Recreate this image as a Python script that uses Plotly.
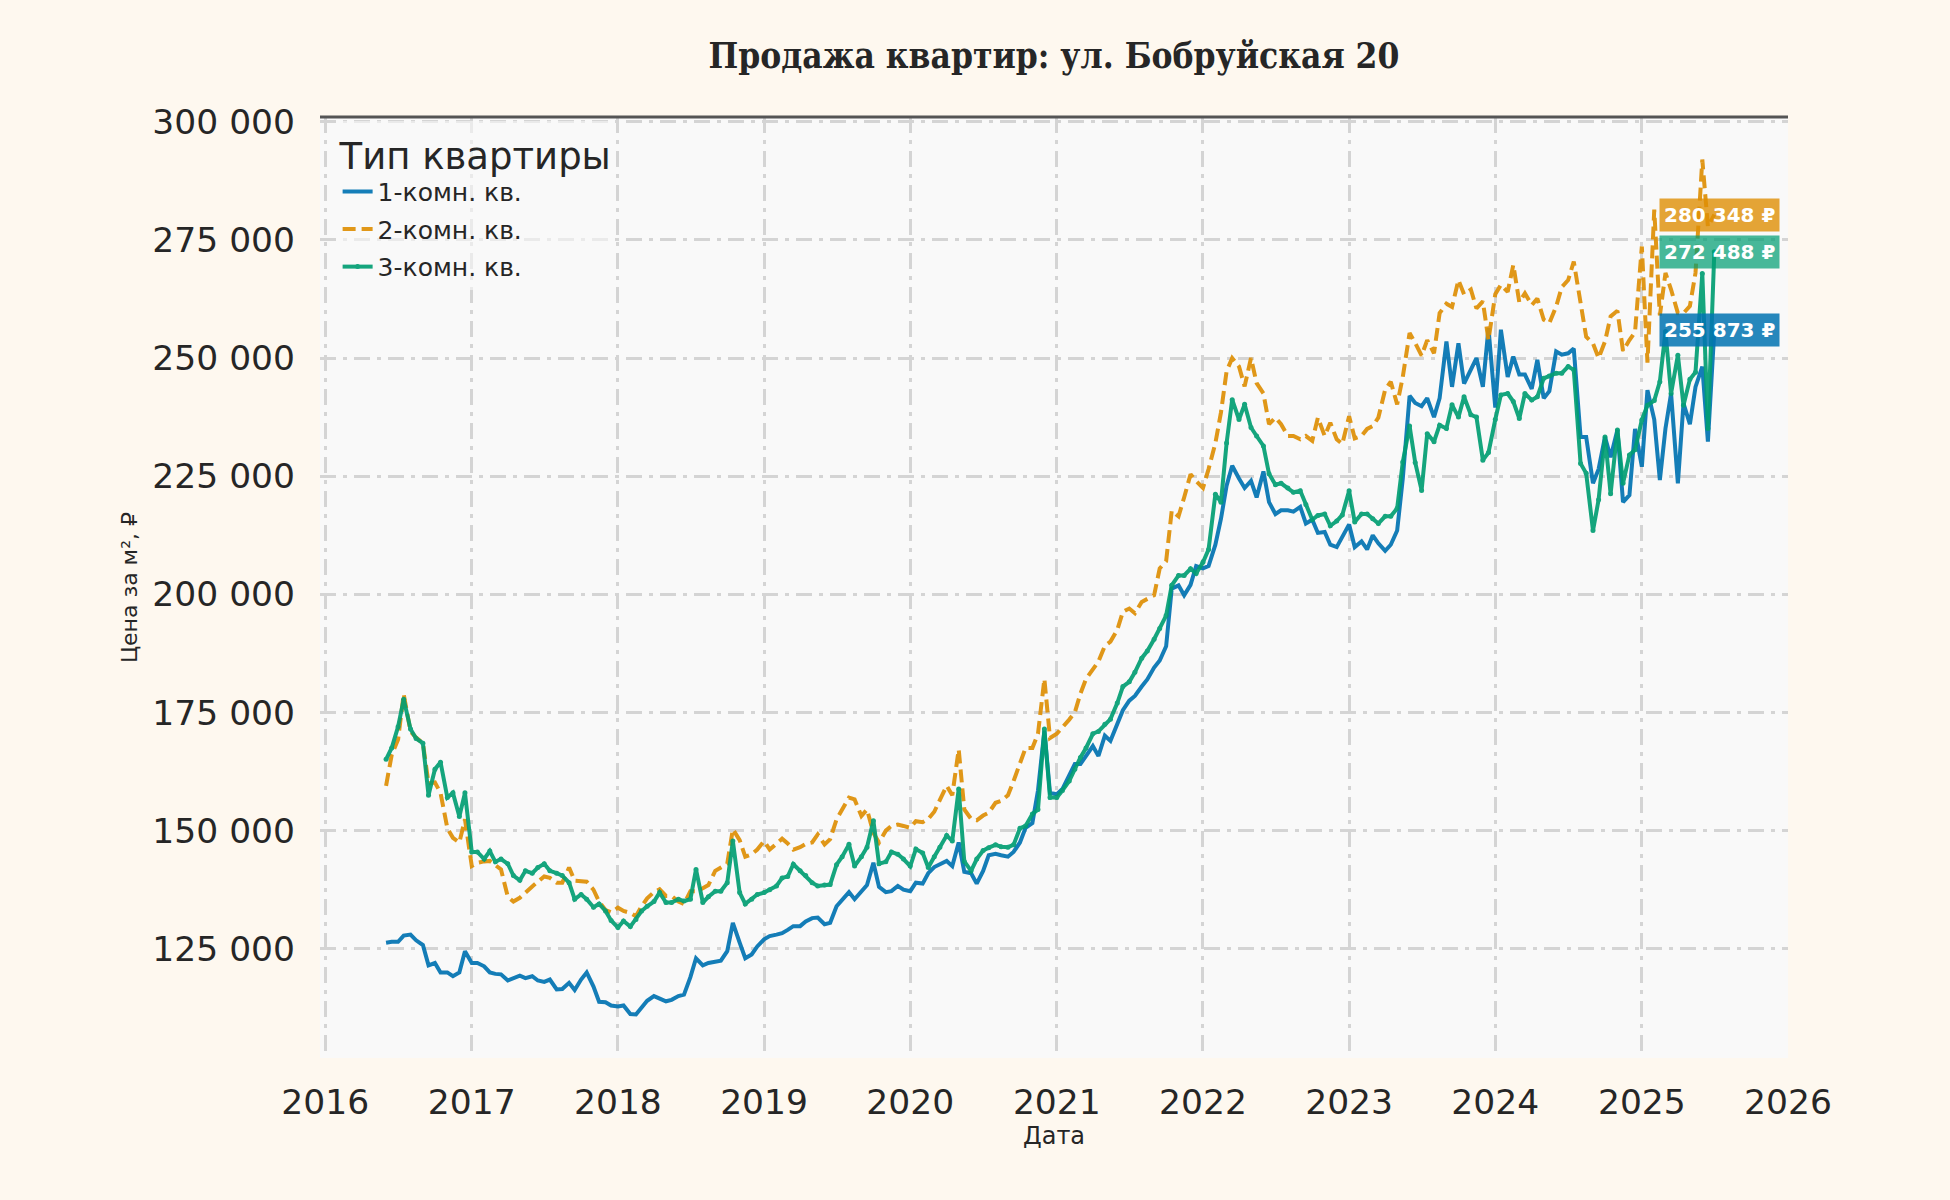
"""
    Цена квадратного метра по типам квартир, ул. Бобруйская 20.
    Значения сняты с графика, точки раз в полмесяца (1-е и 15-е число).
"""

import pandas as pd
import plotly.graph_objects as go

#############################################################################
# Data
#############################################################################
start_date = "2016-06-01"

room1 = (
    # 2016 (Jun - Dec)
    [126300, 126500, 126500, 127800, 128000, 126800, 125800, 121500, 122000, 120000,
     120000, 119200, 120000, 124500]
    # 2017
    + [122000, 122000, 121300, 120000, 119700, 119600, 118300, 118800, 119300, 118800,
       119200, 118300, 118000, 118500, 116400, 116500, 117800, 116300, 118500, 120000,
       117000, 113800, 113700, 113000]
    # 2018
    + [112800, 113000, 111200, 111100, 112500, 114000, 115000, 114500, 113900, 114200,
       115000, 115300, 119000, 123000, 121500, 122000, 122300, 122500, 124500, 130500,
       126300, 123000, 123800, 125500]
    # 2019
    + [127000, 127700, 128000, 128300, 129000, 129800, 129800, 130800, 131500, 131600,
       130200, 130500, 134000, 135500, 137000, 135500, 137000, 138500, 143200, 138100,
       137000, 137200, 138300, 137500]
    # 2020
    + [137200, 139000, 138800, 141000, 142300, 142800, 143600, 142500, 147500, 141300,
       141000, 138800, 141500, 144800, 145100, 144800, 144500, 145500, 147500, 150600,
       151600, 158500, 171100, 158000]
    # 2021
    + [157700, 158800, 161500, 164100, 164100, 165800, 167900, 165800, 170100, 169000,
       172500, 175500, 177500, 178500, 180500, 182000, 184500, 186000, 189000, 201200,
       201900, 199800, 202000, 206000]
    # 2022
    + [205500, 206000, 210500, 216000, 223000, 227200, 224500, 222500, 224000, 220500,
       226000, 219500, 217000, 217800, 217800, 217500, 218500, 215000, 215800, 213000,
       213200, 210500, 210000, 212300]
    # 2023
    + [214800, 210000, 211200, 209500, 212500, 210800, 209200, 210500, 213500, 224500,
       242000, 240500, 239800, 241500, 237500, 241500, 253500, 243900, 253100, 244600,
       247800, 250000, 243900, 256300]
    # 2024
    + [239500, 256000, 246000, 250300, 246500, 246500, 243500, 249600, 241500, 243000,
       251400, 250700, 251000, 252000, 233300, 233300, 223500, 226500, 233300, 229000,
       234800, 219500, 221000, 235000]
    # 2025 (Jan - Jul)
    + [227000, 243200, 237000, 224200, 235100, 242500, 223500, 240400, 236000, 243900,
       248200, 232300, 255873]
)

room2 = (
    [159500, 166000, 169300, 178900, 171000, 169700, 168500, 160000, 160200, 158000,
     150500, 148500, 147500, 152400]
    + [142500, 143200, 143500, 143600, 142700, 141800, 136000, 135000, 135800, 137000,
       138200, 139200, 140300, 140000, 139000, 139000, 142200, 139400, 139400, 139200,
       137500, 135000, 133200, 132700]
    + [133700, 133000, 132600, 131900, 134000, 135700, 137000, 137600, 136200, 136200,
       135000, 134500, 137200, 137200, 137800, 138500, 141500, 142300, 143000, 150300,
       148000, 144500, 145000, 146000]
    + [147800, 146000, 147400, 148300, 147300, 146000, 146500, 147200, 147500, 149200,
       147100, 148200, 152400, 154300, 157000, 156600, 153100, 154500, 149500, 147500,
       150000, 151000, 151300, 151000]
    + [150600, 152000, 151800, 152500, 154000, 156500, 159500, 157500, 167200, 154500,
       152500, 152200, 153200, 153800, 155900, 156300, 157500, 160500, 164400, 167500,
       167500, 170500, 182100, 169600]
    + [170500, 171800, 173500, 175000, 179000, 182100, 184000, 185800, 189100, 190000,
       192500, 196300, 197000, 196000, 198400, 199000, 199800, 205500, 207000, 217700,
       216500, 220500, 225400, 224000]
    + [222500, 226500, 232000, 238500, 247200, 250000, 248200, 244000, 250000, 244700,
       242500, 236000, 237400, 236000, 233500, 233500, 232800, 233500, 232500, 237400,
       233500, 236300, 232800, 231800]
    + [237700, 233000, 233500, 235000, 235600, 237400, 243300, 245000, 240200, 246000,
       255300, 253200, 250500, 253800, 251000, 259500, 261500, 260800, 266500, 263500,
       264500, 260500, 262000, 253800]
    + [263500, 265500, 264000, 269700, 261800, 263700, 261200, 262600, 258100, 257400,
       260900, 265000, 266500, 270400, 262000, 254500, 253100, 250000, 253500, 258800,
       260000, 251500, 253800, 255500]
    + [273600, 249000, 281400, 259000, 268000, 264500, 259500, 259500, 261000, 268000,
       292000, 277800, 280348]
)

room3 = (
    [165100, 167500, 172000, 177800, 171500, 169500, 168500, 157500, 163000, 164500,
     157000, 158000, 153000, 158000]
    + [145500, 145500, 144000, 145700, 143400, 144000, 143000, 140500, 139500, 141500,
       141000, 142200, 143000, 141500, 141000, 140500, 139000, 135500, 136500, 135500,
       133800, 134500, 133000, 131000]
    + [129500, 130900, 129700, 131200, 133000, 134000, 135000, 136900, 134800, 134800,
       135500, 135100, 135500, 141800, 134800, 136000, 137200, 137200, 139000, 147800,
       136900, 134500, 135500, 136500]
    + [136900, 137500, 138300, 140000, 140300, 142900, 141500, 140500, 139000, 138300,
       138500, 138600, 142800, 144500, 147100, 142500, 144500, 146500, 152100, 143000,
       143400, 145500, 145000, 144000]
    + [142500, 146100, 145300, 142200, 144500, 146500, 149000, 147800, 158800, 143500,
       141500, 144000, 145800, 146400, 147000, 146600, 146500, 147000, 150500, 151000,
       153500, 154500, 171500, 157000]
    + [157000, 158500, 160500, 163000, 165500, 167500, 170500, 171000, 172500, 173600,
       177000, 180500, 181500, 183500, 186500, 188000, 190500, 192800, 195500, 201900,
       204000, 204000, 205400, 204400]
    + [206800, 209500, 221200, 219500, 232000, 241200, 237000, 240200, 235300, 233500,
       231400, 225500, 223200, 223500, 222500, 221600, 221900, 219000, 215800, 216700,
       217000, 214500, 215500, 216800]
    + [221900, 215300, 217000, 217000, 216000, 215000, 216500, 216500, 218200, 228000,
       235600, 227900, 222000, 234000, 232300, 235800, 235100, 240100, 237500, 241800,
       238000, 237500, 228400, 230000]
    + [237000, 242200, 242500, 240800, 237200, 242500, 241100, 241800, 245700, 246200,
       246800, 246800, 248200, 247500, 227700, 225600, 213500, 220000, 233300, 221300,
       234800, 223500, 229500, 230600]
    + [236900, 240000, 241000, 245000, 255600, 242500, 250600, 240000, 245500, 247000,
       267900, 235100, 272488]
)

series_names = ["1-комн. кв.", "2-комн. кв.", "3-комн. кв."]
series_values = [room1, room2, room3]
series_colors = ["#0173B2", "#DE8F05", "#029E73"]
label_bg = ["rgba(1,115,178,0.85)", "rgba(222,143,5,0.8)", "rgba(2,158,115,0.72)"]

y_ticks = [125000, 150000, 175000, 200000, 225000, 250000, 275000, 300000]
y_tick_text = ["125 000", "150 000", "175 000", "200 000", "225 000", "250 000",
               "275 000", "300 000"]
x_years = list(range(2016, 2027))

#############################################################################
# Chart
#############################################################################
text_color = "#262626"
grid_color = "#d4d4d4"
grid_dash = "16px,7px,4px,7px"

fig = go.Figure()

for name, vals, col in zip(series_names, series_values, series_colors):
    dates = pd.date_range(start_date, periods=len(vals), freq="SMS")
    line = dict(color=col, width=4)
    mode = "lines"
    marker = None
    if name.startswith("2"):
        line["dash"] = "13px,6px"
    if name.startswith("3"):
        mode = "lines+markers"
        marker = dict(size=5, color=col)
    fig.add_trace(
        go.Scatter(
            x=dates,
            y=vals,
            name=name,
            legendgroup=name,
            mode=mode,
            line=line,
            marker=marker,
            opacity=0.92,
        )
    )

# Подписи последних значений справа
for vals, bg in zip(series_values, label_bg):
    last = vals[-1]
    fig.add_annotation(
        x="2025-07-14",
        y=last,
        xref="x",
        yref="y",
        text="<b>" + f"{last:,}".replace(",", " ") + " ₽</b>",
        showarrow=False,
        xanchor="center",
        yanchor="middle",
        font=dict(family="DejaVu Sans", size=20, color="white"),
        bgcolor=bg,
        borderpad=4,
    )

# Верхняя граница области графика
fig.add_shape(
    type="line",
    xref="paper",
    yref="paper",
    x0=0,
    x1=1,
    y0=1,
    y1=1,
    line=dict(color="#555555", width=3),
)

fig.update_layout(
    width=1950,
    height=1200,
    paper_bgcolor="#fef8ef",
    plot_bgcolor="#f9f9f9",
    margin=dict(l=320, r=162, t=117, b=142),
    font=dict(family="DejaVu Sans", color=text_color),
    title=dict(
        text="<b>Продажа квартир: ул. Бобруйская 20</b>",
        x=0.5,
        xref="paper",
        xanchor="center",
        y=1 - 56 / 1200,
        yref="container",
        yanchor="middle",
        font=dict(family="DejaVu Serif Condensed, DejaVu Serif", size=35, color=text_color),
    ),
    showlegend=True,
    legend=dict(
        x=0.012,
        y=0.996,
        xanchor="left",
        yanchor="top",
        bgcolor="rgba(249,249,249,0.6)",
        borderwidth=0,
        font=dict(size=25, color=text_color),
        title=dict(text="Тип квартиры", font=dict(size=37, color=text_color)),
        tracegroupgap=2,
    ),
    xaxis=dict(
        type="date",
        range=["2015-12-19", "2026-01-01"],
        tickvals=[f"{y}-01-01" for y in x_years],
        ticktext=[str(y) for y in x_years],
        tickfont=dict(size=34.5, color=text_color),
        ticks="",
        ticklabelstandoff=20,
        showgrid=True,
        gridcolor=grid_color,
        gridwidth=2.5,
        griddash=grid_dash,
        showline=False,
        zeroline=False,
        title=dict(text="Дата", font=dict(size=24, color=text_color), standoff=6),
    ),
    yaxis=dict(
        range=[101900, 301000],
        tickvals=y_ticks,
        ticktext=y_tick_text,
        tickfont=dict(size=34.5, color=text_color),
        ticks="",
        ticklabelstandoff=24,
        showgrid=True,
        gridcolor=grid_color,
        gridwidth=2.5,
        griddash=grid_dash,
        showline=False,
        zeroline=False,
        title=dict(text="Цена за м², ₽", font=dict(size=22, color=text_color), standoff=8),
    ),
)

# убрать белую рамку страницы вокруг графика
page_fix = "document.body.style.margin='0';document.body.style.background='#fef8ef';"

fig.write_html("out.html", post_script=page_fix, config={"displayModeBar": False})
